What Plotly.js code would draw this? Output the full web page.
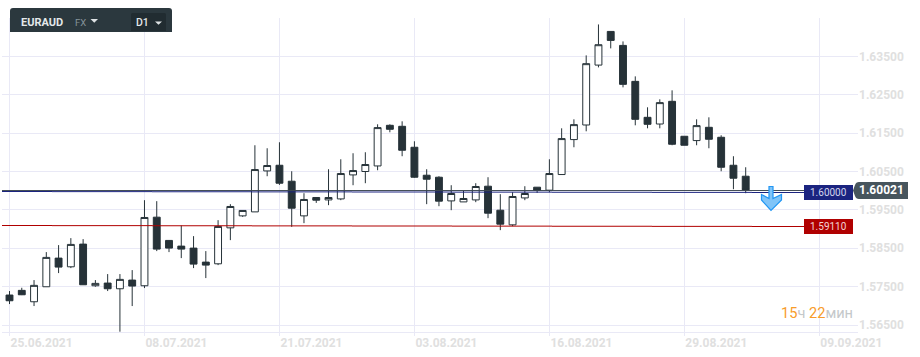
<!DOCTYPE html>
<html><head><meta charset="utf-8">
<script src="https://cdn.plot.ly/plotly-3.0.1.min.js"></script>
<style>html,body{margin:0;padding:0;background:#fff;overflow:hidden}#c{width:920px;height:357px}</style>
</head><body><div id="c"></div><script>
const index=[...Array(61).keys()];
const open=[1.57281,1.57403,1.57106,1.57497,1.58243,1.58017,1.58608,1.57523,1.57593,1.57445,1.57671,1.57523,1.59310,1.58704,1.58556,1.58504,1.58139,1.58095,1.59032,1.59344,1.59448,1.60515,1.60663,1.60247,1.59344,1.59823,1.59760,1.59786,1.60411,1.60500,1.60645,1.61704,1.61678,1.61132,1.60403,1.60351,1.59734,1.59708,1.59760,1.60117,1.59492,1.59110,1.59812,1.60091,1.60013,1.60421,1.61332,1.61712,1.63273,1.64150,1.63786,1.62849,1.61912,1.61738,1.62329,1.61418,1.61306,1.61652,1.61392,1.60663,1.60377];
const high=[1.57385,1.57471,1.57671,1.58400,1.58582,1.58764,1.58738,1.57671,1.57827,1.57827,1.57931,1.59753,1.59727,1.58704,1.59094,1.58816,1.58426,1.59232,1.59649,1.59485,1.61184,1.61106,1.61262,1.60507,1.59935,1.59823,1.60559,1.60819,1.60976,1.61002,1.61730,1.61730,1.61808,1.61288,1.60559,1.60377,1.60143,1.59995,1.60195,1.60351,1.59909,1.59961,1.60117,1.60091,1.60819,1.61626,1.61860,1.63526,1.64332,1.64150,1.63890,1.62979,1.62173,1.62381,1.62615,1.61418,1.61860,1.61912,1.61444,1.60898,1.60611];
const low=[1.57046,1.57280,1.56994,1.57497,1.57853,1.57983,1.57549,1.57497,1.57385,1.56326,1.56994,1.57463,1.58426,1.58400,1.58243,1.57983,1.57723,1.58061,1.58712,1.59318,1.59448,1.60377,1.60151,1.59058,1.59154,1.59682,1.59623,1.59753,1.60143,1.60195,1.60533,1.61522,1.60898,1.60338,1.59649,1.59596,1.59492,1.59708,1.59701,1.59284,1.58972,1.59076,1.59753,1.59943,1.59961,1.60421,1.61132,1.61548,1.63213,1.63708,1.62693,1.61704,1.61626,1.61626,1.61184,1.61184,1.61184,1.61106,1.60507,1.60039,1.59935];
const close=[1.57132,1.57288,1.57533,1.58262,1.58009,1.58600,1.57549,1.57585,1.57445,1.57689,1.57515,1.59302,1.58478,1.58504,1.58478,1.58087,1.58061,1.59068,1.59589,1.59485,1.60551,1.60656,1.60195,1.59544,1.59771,1.59753,1.59823,1.60447,1.60525,1.60682,1.61644,1.61600,1.61054,1.60351,1.60299,1.59727,1.59927,1.59797,1.60109,1.59414,1.59128,1.59849,1.59927,1.60005,1.60447,1.61358,1.61722,1.63310,1.63804,1.63916,1.62771,1.61860,1.61730,1.62295,1.61210,1.61184,1.61696,1.61340,1.60611,1.60325,1.60021];
const dateTickAt=[0,11,22,33,44,55,66];
const dateLabels=['25.06.2021','08.07.2021','21.07.2021','03.08.2021','16.08.2021','29.08.2021','09.09.2021'];
const priceTicks=[1.565,1.575,1.585,1.595,1.605,1.615,1.625,1.635,1.645];
const priceLabels=['1.56500','1.57500','1.58500','1.59500','1.60500','1.61500','1.62500','1.63500',''];
const orderBuy=1.60000, orderStop=1.59110, lastPrice=1.60021;

const W=920,H=357,L=2,R=858,T=18,B=332,YMIN=1.56318,YMAX=1.645;
const px=x=>(x-L)/(R-L), py=y=>(B-y)/(B-T);
const P=(x,y)=>px(x)+' '+py(y);
const rowOf=v=>Math.round(B-(v-YMIN)/(YMAX-YMIN)*(B-T));
const box=(x0,y0,x1,y1,c)=>({type:'rect',xref:'paper',yref:'paper',x0:px(x0),x1:px(x1),y0:py(y1),y1:py(y0),fillcolor:c,line:{width:0}});
const pathShape=(d,fill,line)=>({type:'path',xref:'paper',yref:'paper',path:d,fillcolor:fill,line:line||{width:0}});
const txt=(x,y,t,size,color,anchor,weight)=>({xref:'paper',yref:'paper',x:px(x),y:py(y),text:t,showarrow:false,xanchor:anchor||'left',yanchor:'middle',font:{family:'Roboto',size:size,color:color,weight:weight||400},borderpad:0});
// a horizontal level drawn as two pixel rows whose strength shifts in 100px steps
function level(v,rgb,xEnd){
  const r=rowOf(v),out=[];
  const col=a=>'rgba('+rgb+','+a+')';
  out.push(box(L,r,52,r+1,col(1)));
  for(let i=0;i<7;i++){
    const a=(i+1)/8, x0=52+100*i, x1=x0+100;
    out.push(box(x0,r,x1,r+1,col(+(1-a).toFixed(3))));
    out.push(box(x0,r+1,x1,r+2,col(+a.toFixed(3))));
  }
  out.push(box(752,r+1,xEnd,r+2,col(1)));
  return out;
}
const shapes=[
 ...level(orderBuy,'27,36,128',804),
 ...level(orderStop,'176,0,0',804),
 box(L,rowOf(lastPrice),853,rowOf(lastPrice)+1,'rgba(58,70,78,0.95)'),
 // toolbar
 pathShape('M '+P(10,32)+' L '+P(10,11)+' Q '+P(10,8)+' '+P(13,8)+' L '+P(169,8)+' Q '+P(172,8)+' '+P(172,11)+' L '+P(172,32)+' Z','#2b383e'),
 pathShape('M '+P(132,13)+' L '+P(165,13)+' L '+P(166,14)+' L '+P(166,31)+' L '+P(131,31)+' L '+P(131,14)+' Z','#212c31'),
 pathShape('M '+P(90.5,19)+' L '+P(98,19)+' L '+P(94.25,22.8)+' Z','#dfe3e5'),
 pathShape('M '+P(155,21.5)+' L '+P(162,21.5)+' L '+P(158.5,24.8)+' Z','#dfe3e5'),
 // arrow
 pathShape('M '+P(769,186.5)+' L '+P(773,186.5)+' L '+P(773,198.5)+' L '+P(781.5,194.5)+' L '+P(781.5,200)+' L '+P(771,210.5)+' L '+P(761.5,200)+' L '+P(761.5,194.5)+' L '+P(769,198.5)+' Z','#80c4f8',{color:'#2196f3',width:1.2}),
 // price boxes
 box(804,185,853,200,'#1b2480'),
 box(804,219,853,234,'#b00000'),
 pathShape('M '+P(853,190.5)+' L '+P(855,185)+' Q '+P(856,182)+' '+P(859,182)+' L '+P(908,182)+' L '+P(908,199)+' L '+P(859,199)+' Q '+P(856,199)+' '+P(855,196)+' Z','#47555d')
];
const annotations=[
 txt(20,22.5,'EURAUD',11,'#e4e8ea','left',700),
 txt(74,22.5,'FX',9.5,'#86949b'),
 txt(135,22.5,'D1',10.5,'#e4e8ea','left',500),
 txt(828.5,192.5,'1.60000',10,'#d3d6ec','center'),
 txt(828.5,226.5,'1.59110',10,'#f3d3d3','center'),
 txt(881.5,190.5,'1.60021',12,'#ffffff','center',700),
 txt(780,312.5,'<span style="color:#f89c2a">15</span><span style="color:#c4c8ca">ч </span><span style="color:#f89c2a">22</span><span style="color:#c4c8ca">мин</span>',14.6,'#c4c8ca')
];
const trace={type:'candlestick',x:index,open,high,low,close,whiskerwidth:0,hoverinfo:'skip',
 increasing:{line:{color:'#263238',width:1},fillcolor:'#ffffff'},
 decreasing:{line:{color:'#263238',width:1},fillcolor:'#263238'}};
const tickFont={family:'Roboto',size:12,color:'#e0e0e0',weight:700};
const layout={width:W,height:H,margin:{l:L,r:W-R,t:T,b:H-B,pad:0},paper_bgcolor:'#fff',plot_bgcolor:'#fff',showlegend:false,
 font:{family:'Roboto'},boxgap:0.2,
 xaxis:{type:'linear',range:[(L-9.5)/12.27,(R-9.5)/12.27],rangeslider:{visible:false},tickmode:'array',tickvals:dateTickAt,ticktext:dateLabels,
  ticklabelposition:'outside right',ticks:'outside',ticklen:3,tickcolor:'#e9e9f6',gridcolor:'#e9e9f6',gridwidth:1,showline:true,linecolor:'#e9e9f6',linewidth:1,zeroline:false,
  tickfont:tickFont,fixedrange:true},
 yaxis:{side:'right',range:[YMIN,YMAX],tickmode:'array',tickvals:priceTicks,ticktext:priceLabels,gridcolor:'#e9e9f6',gridwidth:1,showline:false,zeroline:false,ticks:'',
  tickfont:tickFont,fixedrange:true},
 shapes,annotations};
Plotly.newPlot('c',[trace],layout,{staticPlot:true,displayModeBar:false});
</script></body></html>
